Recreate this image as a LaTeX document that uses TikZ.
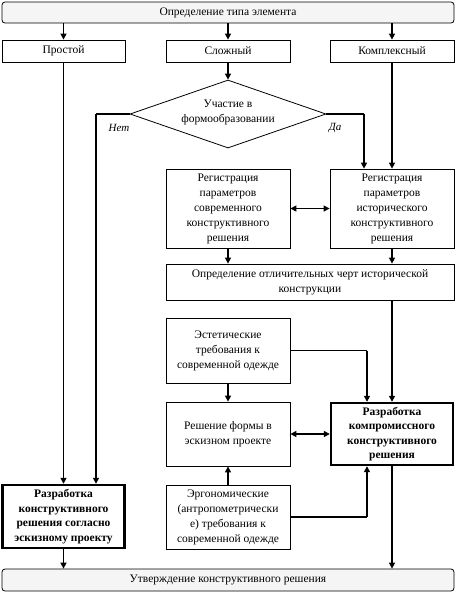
\documentclass[tikz,border=0pt]{standalone}
\usepackage{fontspec}
\setmainfont{Liberation Serif}
\usetikzlibrary{arrows.meta,shapes.geometric}
\begin{document}
\begin{tikzpicture}[x=1pt,y=-1pt,
  every node/.style={font=\fontsize{11.5}{15}\selectfont, align=center, inner sep=1pt},
  box/.style={draw, line width=0.8pt, minimum width=124pt},
  rbox/.style={draw, line width=0.8pt, rounded corners=3pt, fill=gray!8, minimum width=452pt, minimum height=21pt},
  bbox/.style={draw, line width=2.4pt, minimum width=122pt, font=\fontsize{11.5}{14.5}\selectfont\bfseries},
  conn/.style={line width=1.4pt, -{Triangle[length=6pt,width=6pt]}},
  thin/.style={line width=1.4pt},
  dconn/.style={line width=1.4pt, {Triangle[length=6pt,width=6pt]}-{Triangle[length=6pt,width=6pt]}},
  lab/.style={font=\fontsize{11}{13}\selectfont\itshape}
]
\useasboundingbox (0,0) rectangle (467,600);
\node[rbox] (top) at (228,12.5) {Определение типа элемента};
\node[box, minimum width=123pt, minimum height=22pt] (p) at (63.5,51) {Простой};
\node[box, minimum height=22pt] (s) at (228,51) {Сложный};
\node[box, minimum height=22pt] (k) at (392,51) {Комплексный};
\node[draw, line width=0.8pt, diamond, aspect=2.88, minimum width=196pt, minimum height=68pt, inner sep=0pt] (d) at (228,114) {};
\node (dt) at (228,112) {Участие в\\формообразовании};
\node[lab] (net) at (119,128) {Нет};
\node[lab] (da) at (335,128) {Да};
\node[box, minimum height=79pt] (mod) at (228,208.5) {Регистрация\\параметров\\современного\\конструктивного\\решения};
\node[box, minimum height=79pt] (hist) at (392,208.5) {Регистрация\\параметров\\исторического\\конструктивного\\решения};
\node[box, minimum width=288pt, minimum height=36pt] (odf) at (310,282) {Определение отличительных черт исторической\\конструкции};
\node[box, minimum height=65pt] (est) at (228,350.5) {Эстетические\\требования к\\современной одежде};
\node[box, minimum height=64pt] (form) at (228,434) {Решение формы в\\эскизном проекте};
\node[bbox, minimum height=62pt] (comp) at (392,434) {Разработка\\компромиссного\\конструктивного\\решения};
\node[box, minimum height=64pt] (ergo) at (228,517) {Эргономические\\(антропометрически\\е) требования к\\современной одежде};
\node[bbox, minimum height=63pt] (dev) at (63.5,516.5) {Разработка\\конструктивного\\решения согласно\\эскизному проекту};
\node[rbox, minimum height=22pt] (fin) at (228,580) {Утверждение конструктивного решения};
\coordinate (nl) at (96,114);
\coordinate (nr) at (364,114);
\coordinate (ce) at (367,434);
% connectors
\draw[conn] (top.south -| p.north) -- (p.north);
\draw[conn] (top.south -| s.north) -- (s.north);
\draw[conn] (top.south -| k.north) -- (k.north);
\draw[conn] (s.south) -- (d.north);
\draw[thin] (d.west) -- (nl);
\draw[conn] (nl) -- (nl |- dev.north);
\draw[thin] (d.east) -- (nr);
\draw[conn] (nr) -- (nr |- hist.north);
\draw[conn] (k.south) -- (hist.north);
\draw[conn] (p.south) -- (dev.north);
\draw[dconn] (mod.east) -- (hist.west);
\draw[conn] (mod.south) -- (mod.south |- odf.north);
\draw[conn] (hist.south) -- (hist.south |- odf.north);
\draw[conn] (odf.south -| hist.south) -- (comp.north);
\draw[conn] (est.south) -- (form.north);
\draw[thin] (est.east) -- (est.east -| ce);
\draw[conn] (est.east -| ce) -- (ce |- comp.north);
\draw[dconn] (form.east) -- (comp.west);
\draw[conn] (ergo.north) -- (form.south);
\draw[thin] (ergo.east) -- (ergo.east -| ce);
\draw[conn] (ergo.east -| ce) -- (ce |- comp.south);
\draw[conn] (dev.south) -- (dev.south |- fin.north);
\draw[conn] (comp.south) -- (comp.south |- fin.north);
\end{tikzpicture}
\end{document}
